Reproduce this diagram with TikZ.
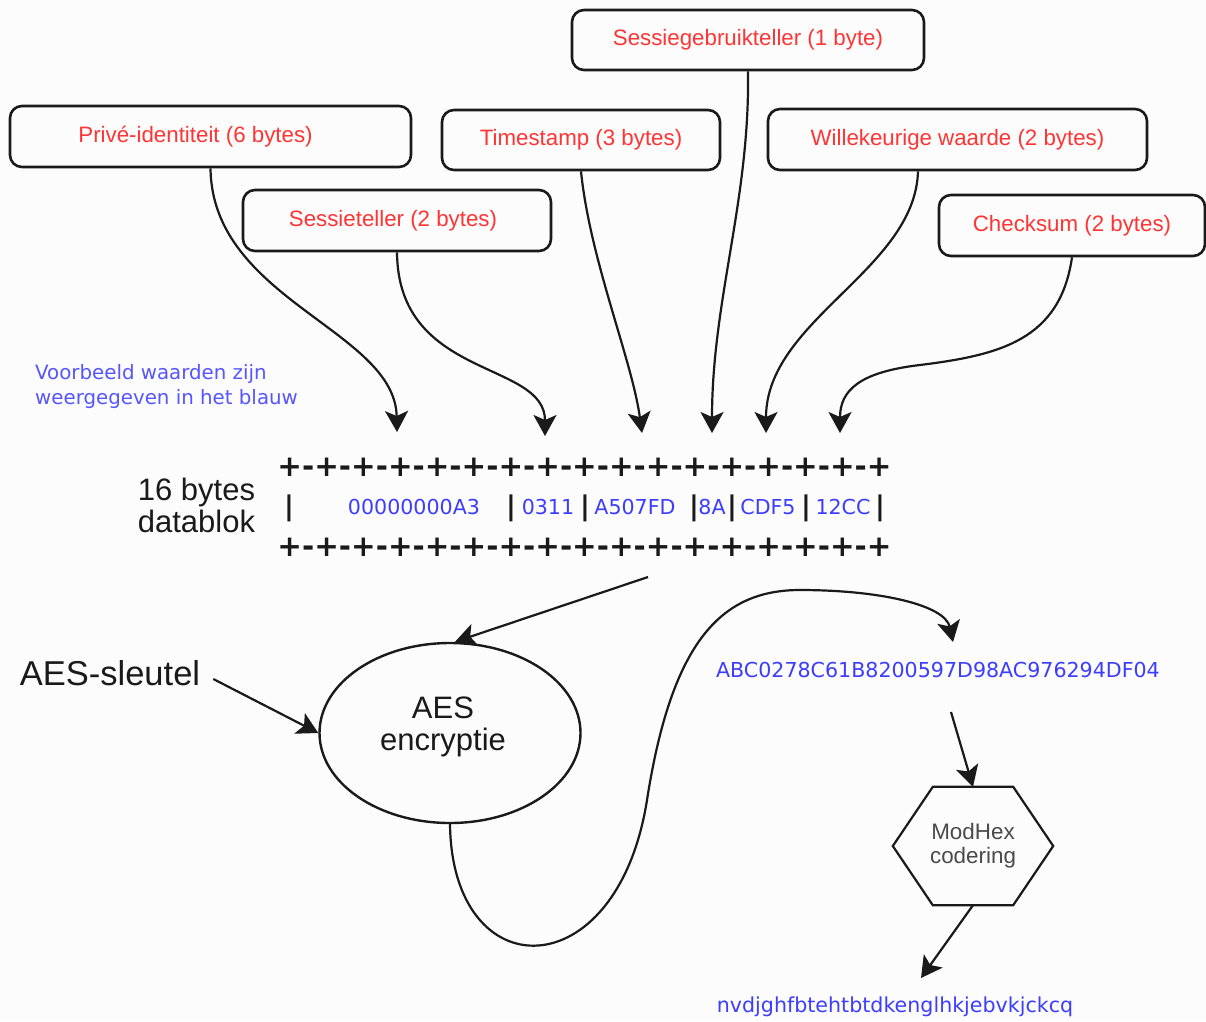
\documentclass[tikz,border=0pt]{standalone}
\usepackage{fontspec}
\setmainfont{Liberation Sans}
\newfontfamily\dejavu{DejaVu Sans}
\usetikzlibrary{arrows.meta,shapes.geometric,calc}
\definecolor{fieldred}{HTML}{FF3434}
\definecolor{valblue}{HTML}{3D3DFF}
\definecolor{noteblue}{HTML}{5656FF}
\definecolor{hexgray}{HTML}{4A4A4A}
\definecolor{ink}{HTML}{1A1A1A}
\definecolor{bgcol}{HTML}{FCFCFC}
\begin{document}
\begin{tikzpicture}[x=1pt,y=-1pt,
  conn/.style={draw=ink, line width=2.2pt, -{Stealth[length=21pt 0 0,width=23pt 0 0,inset=5pt 0]}},
  field/.style={draw=ink, line width=2.6pt, rounded corners=12pt, text=fieldred, inner sep=0pt, font={\fontsize{22.3}{26}\selectfont}},
  val/.style={text=valblue, inner sep=0pt, font={\dejavu\fontsize{20.6}{24}\selectfont}},
  bar/.style={text=ink, inner sep=0pt, font={\dejavu\bfseries\fontsize{27}{28}\selectfont}},
  plusrow/.style={text=ink, inner sep=0pt, font={\dejavu\bfseries\fontsize{29.4}{30}\selectfont}},
  big/.style={text=ink, inner sep=0pt, align=center}
]
\fill[bgcol] (0,0) rectangle (1206,1021);
\useasboundingbox (0,0) rectangle (1206,1021);

% field boxes
\node[field, minimum width=401pt, minimum height=61pt] (bPriv) at (210.5,136.5) {Privé-identiteit (6 bytes)\hspace*{30pt}};
\node[field, minimum width=308pt, minimum height=61pt] (bSes) at (397,220.5) {Sessieteller (2 bytes)\hspace*{8pt}};
\node[field, minimum width=278pt, minimum height=60pt] (bTime) at (581,140) {Timestamp (3 bytes)};
\node[field, minimum width=352pt, minimum height=60pt] (bSgb) at (748,40) {Sessiegebruikteller (1 byte)};
\node[field, minimum width=379pt, minimum height=61pt] (bWil) at (957.5,139.5) {Willekeurige waarde (2 bytes)};
\node[field, minimum width=266pt, minimum height=61pt] (bChk) at (1072,225.5) {Checksum (2 bytes)};

% note
\node[text=noteblue, inner sep=0pt, align=left, anchor=west, font={\dejavu\fontsize{19.8}{25}\selectfont}] (note) at (35,387) {Voorbeeld waarden zijn\\weergegeven in het blauw};

% data block
\node[big, font={\fontsize{31}{32}\selectfont}] (dblabel) at (196.5,505.5) {16 bytes\\datablok};
\node[plusrow] (rowTop) at (584.5,467) {+-+-+-+-+-+-+-+-+-+-+-+-+-+-+-+-+};
\node[plusrow] (rowBot) at (584.5,547) {+-+-+-+-+-+-+-+-+-+-+-+-+-+-+-+-+};
\node[bar] (p1) at (289,508) {|};
\node[bar] (p2) at (511,508) {|};
\node[bar] (p3) at (585,508) {|};
\node[bar] (p4) at (694,508) {|};
\node[bar] (p5) at (732,508) {|};
\node[bar] (p6) at (806,508) {|};
\node[bar] (p7) at (880,508) {|};
\node[val] (v1) at (414,507) {00000000A3};
\node[val] (v2) at (548,507) {0311};
\node[val] (v3) at (635,507) {A507FD};
\node[val] (v4) at (712,507) {8A};
\node[val] (v5) at (768,507) {CDF5};
\node[val] (v6) at (843,507) {12CC};

% arrow targets above the block
\coordinate (t1) at (397,432);
\coordinate (t2) at (545,436);
\coordinate (t3) at (642,433);
\coordinate (t4) at (712,433);
\coordinate (t5) at (766,433);
\coordinate (t6) at (840,433);

\draw[conn] (bPriv.south) .. controls (212,300) and (395,330) .. (t1);
\draw[conn] (bSes.south) .. controls (398,380) and (545,360) .. (t2);
\draw[conn] (bTime.south) .. controls (590,260) and (632,360) .. (t3);
\draw[conn] (bSgb.south) .. controls (750,200) and (712,300) .. (t4);
\draw[conn] ([xshift=-39.5pt]bWil.south) .. controls (915,270) and (766,320) .. (t5);
\draw[conn] (bChk.south) .. controls (1060,340) and (1000,355) .. (920,365) .. controls (860,372) and (840,390) .. (t6);

% AES
\node[draw=ink, line width=2.4pt, ellipse, minimum width=261pt, minimum height=180pt, inner sep=0pt] (aes) at (450,733) {};
\node[big, font={\fontsize{31}{32}\selectfont}] (aestxt) at (443,727) {AES\\encryptie};
\node[text=ink, inner sep=0pt, font={\fontsize{34.5}{36}\selectfont}] (key) at (110,673) {AES-sleutel};
\coordinate (dbOut) at (648,577);
\draw[conn] (dbOut) -- ([xshift=5pt]aes.north);
\draw[conn] ([xshift=13pt,yshift=-6pt]key.east) -- (aes.west);

% output
\node[val] (hexstr) at (938,670) {ABC0278C61B8200597D98AC976294DF04};
\coordinate (hexIn) at (953,642);
\draw[conn] (aes.south) .. controls (452,990) and (617,990) .. (647,800) .. controls (672,640) and (722,590) .. (800,590) .. controls (880,590) and (945,605) .. (hexIn);

\node[inner sep=0pt, minimum width=160pt, minimum height=118pt, text=hexgray, align=center, font={\fontsize{22.4}{24}\selectfont}] (hex) at (973,846) {ModHex\\codering};
\draw[draw=ink, line width=2.2pt, line join=miter] (hex.west) -- ([xshift=40pt]hex.north west) -- ([xshift=-40pt]hex.north east) -- (hex.east) -- ([xshift=-40pt]hex.south east) -- ([xshift=40pt]hex.south west) -- cycle;
\coordinate (hexOut) at (951,712);
\draw[conn] (hexOut) -- (hex.north);

\node[val] (nv) at (895,1007) {nvdjghfbtehtbtdkenglhkjebvkjckcq};
\coordinate (nvIn) at (921,978);
\draw[conn] (hex.south) -- (nvIn);
\end{tikzpicture}
\end{document}
